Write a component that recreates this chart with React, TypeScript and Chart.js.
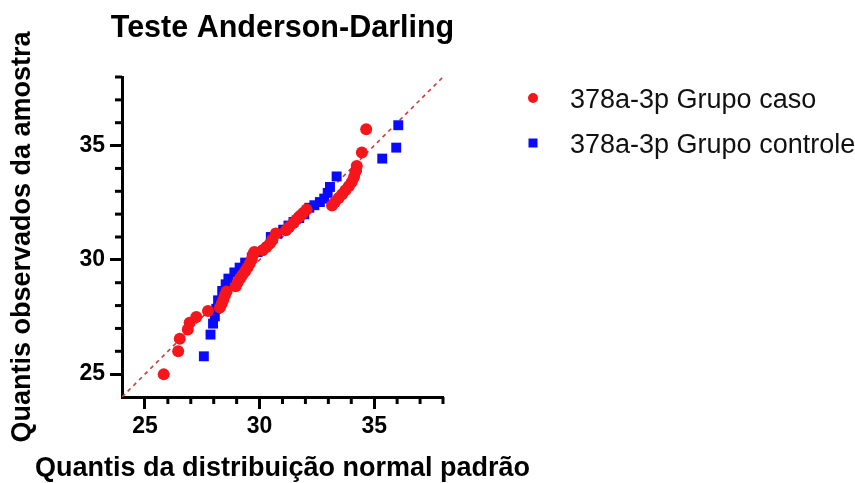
import React, { useEffect, useRef } from 'react';
import { Chart, registerables } from 'chart.js';

Chart.register(...registerables);

const chartTitle = 'Teste Anderson-Darling';
const xAxisTitle = 'Quantis da distribuição normal padrão';
const yAxisTitle = 'Quantis observados da amostra';
const casoLabel = '378a-3p Grupo caso';
const controleLabel = '378a-3p Grupo controle';

const axisMin = 24;
const axisMax = 38;
const majorTickValues = [25, 30, 35];
const minorTickValues = [25, 26, 27, 28, 29, 30, 31, 32, 33, 34, 35, 36, 37, 38];

// caso group: theoretical quantile (x) vs observed (y)
const casoX = [25.82, 26.45, 26.52, 26.87, 26.95, 27.24, 27.75, 28.27, 28.35, 28.42, 28.49, 28.56, 28.96, 29.05, 29.15, 29.25, 29.37, 29.47, 29.57, 29.66, 29.72, 29.77, 30.13, 30.3, 30.45, 30.56, 30.71, 31.15, 31.29, 31.47, 31.61, 31.76, 31.9, 32.05, 33.16, 33.29, 33.45, 33.6, 33.74, 33.89, 34.02, 34.12, 34.18, 34.24, 34.46, 34.65];
const casoY = [24.99, 26.0, 26.55, 26.95, 27.25, 27.5, 27.76, 27.91, 28.08, 28.26, 28.45, 28.62, 28.84, 29.02, 29.18, 29.34, 29.5, 29.66, 29.83, 30.02, 30.23, 30.34, 30.42, 30.56, 30.71, 30.88, 31.15, 31.29, 31.44, 31.61, 31.77, 31.92, 32.05, 32.2, 32.38, 32.53, 32.71, 32.87, 33.04, 33.22, 33.41, 33.62, 33.84, 34.11, 34.7, 35.71];

// controle group
const controleX = [27.57, 27.86, 27.97, 28.05, 28.11, 28.19, 28.37, 28.52, 28.64, 28.9, 29.13, 29.37, 29.66, 29.91, 30.49, 30.78, 31.03, 31.26, 31.48, 31.73, 31.95, 32.17, 32.39, 32.63, 32.82, 32.97, 33.07, 33.36, 34.24, 35.35, 35.96, 36.05];
const controleY = [25.78, 26.73, 27.21, 27.53, 27.86, 28.23, 28.64, 28.93, 29.18, 29.45, 29.66, 29.88, 30.1, 30.34, 31.0, 31.15, 31.32, 31.5, 31.66, 31.83, 31.99, 32.28, 32.39, 32.53, 32.68, 32.93, 33.19, 33.65, 34.03, 34.43, 34.91, 35.89];

// reference line y = x
const refLineX = [24, 38];
const refLineY = [24, 38];

const RED = '#f5161b';
const BLUE = '#0a0aff';
const FONT = "'Liberation Sans', Arial, Helvetica, sans-serif";

const toPoints = (xs: number[], ys: number[]) => xs.map((x, i) => ({ x, y: ys[i] }));

const decorPlugin = {
  id: 'decor',
  afterDraw(chart: any) {
    const { ctx, chartArea, scales } = chart;
    const xs = scales.x;
    const ys = scales.y;
    ctx.save();
    // minor ticks
    ctx.strokeStyle = '#000';
    ctx.lineWidth = 3;
    ctx.lineCap = 'butt';
    minorTickValues.forEach((v) => {
      if (majorTickValues.includes(v)) return;
      const px = xs.getPixelForValue(v);
      ctx.beginPath();
      ctx.moveTo(px, chartArea.bottom);
      ctx.lineTo(px, chartArea.bottom + 7);
      ctx.stroke();
      const py = ys.getPixelForValue(v);
      ctx.beginPath();
      ctx.moveTo(chartArea.left, py);
      ctx.lineTo(chartArea.left - 7, py);
      ctx.stroke();
    });
    const cx0 = (chartArea.left + chartArea.right) / 2;
    // title
    ctx.fillStyle = '#000';
    ctx.font = `bold 30.5px ${FONT}`;
    ctx.textAlign = 'center';
    ctx.textBaseline = 'alphabetic';
    ctx.fillText(chartTitle, cx0, 37);
    // x axis title
    ctx.font = `bold 27px ${FONT}`;
    ctx.fillText(xAxisTitle, cx0, 476);
    // legend
    const ds = chart.data.datasets;
    const items = [ds[0], ds[1]];
    const rowY = [98, 143];
    ctx.font = `27px ${FONT}`;
    ctx.textAlign = 'left';
    items.forEach((d: any, i: number) => {
      const cx = 533;
      const cy = rowY[i];
      ctx.fillStyle = d.backgroundColor;
      if (d.pointStyle === 'rect') {
        ctx.fillRect(cx - 4.5, cy - 4.5, 9, 9);
      } else {
        ctx.beginPath();
        ctx.arc(cx, cy, 5, 0, Math.PI * 2);
        ctx.fill();
      }
      ctx.fillStyle = '#111';
      ctx.fillText(d.label, 570, cy + 10);
    });
    ctx.restore();
  },
};

export default function App() {
  const ref = useRef<HTMLCanvasElement | null>(null);
  useEffect(() => {
    if (!ref.current) return;
    const chart = new Chart(ref.current, {
      type: 'scatter',
      data: {
        datasets: [
          {
            label: casoLabel,
            data: toPoints(casoX, casoY),
            backgroundColor: RED,
            borderColor: RED,
            pointStyle: 'circle',
            pointRadius: 6,
            pointBorderWidth: 0,
            order: 1,
          },
          {
            label: controleLabel,
            data: toPoints(controleX, controleY),
            backgroundColor: BLUE,
            borderColor: BLUE,
            pointStyle: 'rect',
            pointRadius: 7,
            pointBorderWidth: 0,
            order: 2,
          },
          {
            type: 'line',
            label: 'ref',
            data: toPoints(refLineX, refLineY),
            borderColor: '#d03a3a',
            borderWidth: 1.6,
            borderDash: [4, 4],
            pointRadius: 0,
            fill: false,
            order: 3,
          } as any,
        ],
      },
      options: {
        animation: false,
        responsive: false,
        devicePixelRatio: 1,
        layout: { padding: { left: 0, top: 77, right: 412, bottom: 0 } },
        plugins: {
          legend: { display: false },
          title: { display: false },
          tooltip: { enabled: false },
        },
        scales: {
          x: {
            type: 'linear',
            position: 'bottom',
            min: axisMin,
            max: axisMax,
            afterFit: (s: any) => { s.height = 86; },
            ticks: {
              stepSize: 1,
              autoSkip: false,
              maxRotation: 0,
              padding: 4,
              color: '#000',
              font: { family: FONT, size: 23, weight: 'bold' },
              callback: (v: any) => (majorTickValues.includes(Number(v)) ? String(v) : ''),
            },
            grid: {
              display: true,
              drawOnChartArea: false,
              drawTicks: true,
              tickLength: 12,
              tickWidth: 3,
              tickColor: (c: any) => (c.tick && majorTickValues.includes(c.tick.value) ? '#000' : 'rgba(0,0,0,0)'),
            },
            border: { display: true, color: '#000', width: 3 },
            title: { display: false },
          },
          y: {
            type: 'linear',
            position: 'left',
            min: axisMin,
            max: axisMax,
            afterFit: (s: any) => { s.width = 122; },
            ticks: {
              stepSize: 1,
              autoSkip: false,
              padding: 5,
              color: '#000',
              font: { family: FONT, size: 23, weight: 'bold' },
              callback: (v: any) => (majorTickValues.includes(Number(v)) ? String(v) : ''),
            },
            grid: {
              display: true,
              drawOnChartArea: false,
              drawTicks: true,
              tickLength: 12,
              tickWidth: 3,
              tickColor: (c: any) => (c.tick && majorTickValues.includes(c.tick.value) ? '#000' : 'rgba(0,0,0,0)'),
            },
            border: { display: true, color: '#000', width: 3 },
            title: {
              display: true,
              text: yAxisTitle,
              color: '#000',
              font: { family: FONT, size: 27, weight: 'bold' },
              padding: { top: 6, bottom: 0 },
            },
          },
        },
      },
      plugins: [decorPlugin],
    });
    return () => chart.destroy();
  }, []);
  return (
    <div style={{ position: 'absolute', left: 0, top: 0, width: 855, height: 483, background: '#fff' }}>
      <canvas ref={ref} width={855} height={483} style={{ display: 'block' }} />
    </div>
  );
}
